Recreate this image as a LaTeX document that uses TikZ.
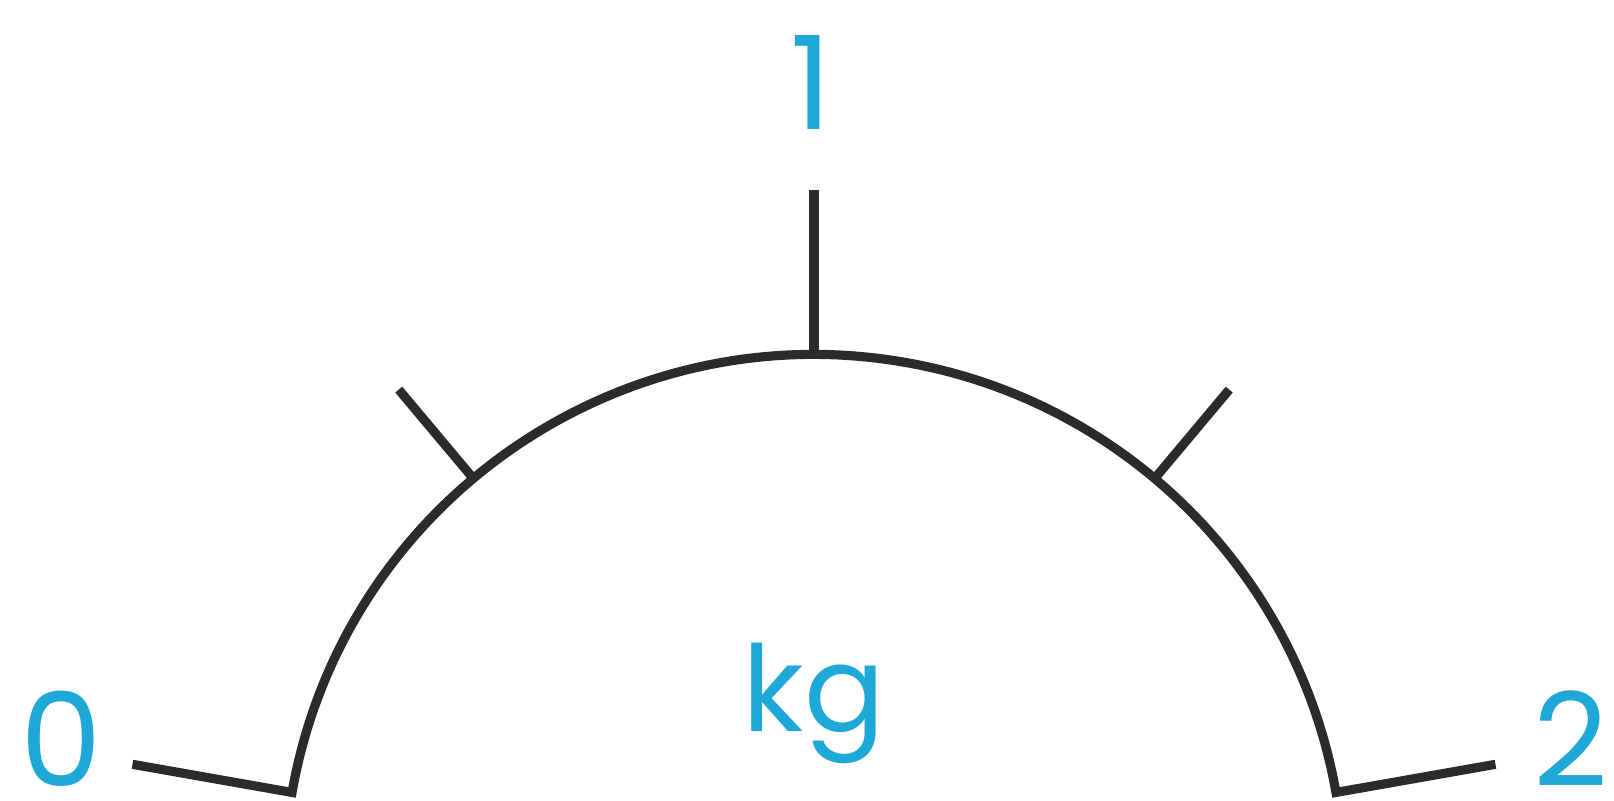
\documentclass[tikz,border=0pt]{standalone}
\usepackage{xcolor}
\usepackage{fontspec}
\usepackage{tikz}
\setmainfont{Poppins}
\usetikzlibrary{positioning, calc}
\definecolor{dialblue}{RGB}{30,168,216}
\definecolor{dialgrey}{RGB}{43,43,45}
\tikzstyle{scale line} = [draw=dialgrey, line width=2.6pt, line join=miter]
\tikzstyle{reading} = [text=dialblue, inner sep=0pt, anchor=base, font=\fontsize{37}{44}\selectfont]

\begin{document}
\begin{tikzpicture}
    \useasboundingbox (-8.14,0.835) rectangle (8.00,8.845);
    \coordinate (centre) at (0,0);

    % dial arc with the two end marks
    \draw[scale line] (170:6.92) -- (170:5.30) arc (170:10:5.30) -- (10:6.92);
    % middle and quarter marks
    \draw[scale line] (90:5.30) -- (90:6.94);
    \foreach \a in {50,130}
        \draw[scale line] (\a:5.30) -- (\a:6.46);

    \node (zero) [reading] at (-7.53,0.98) {0};
    \node (one) [reading] at (-0.03,7.545) {1};
    \node (two) [reading] at (7.57,0.98) {2};
    \node (unit) [reading, font=\fontsize{34}{40}\selectfont] at (0,1.53) {kg};
\end{tikzpicture}
\end{document}
